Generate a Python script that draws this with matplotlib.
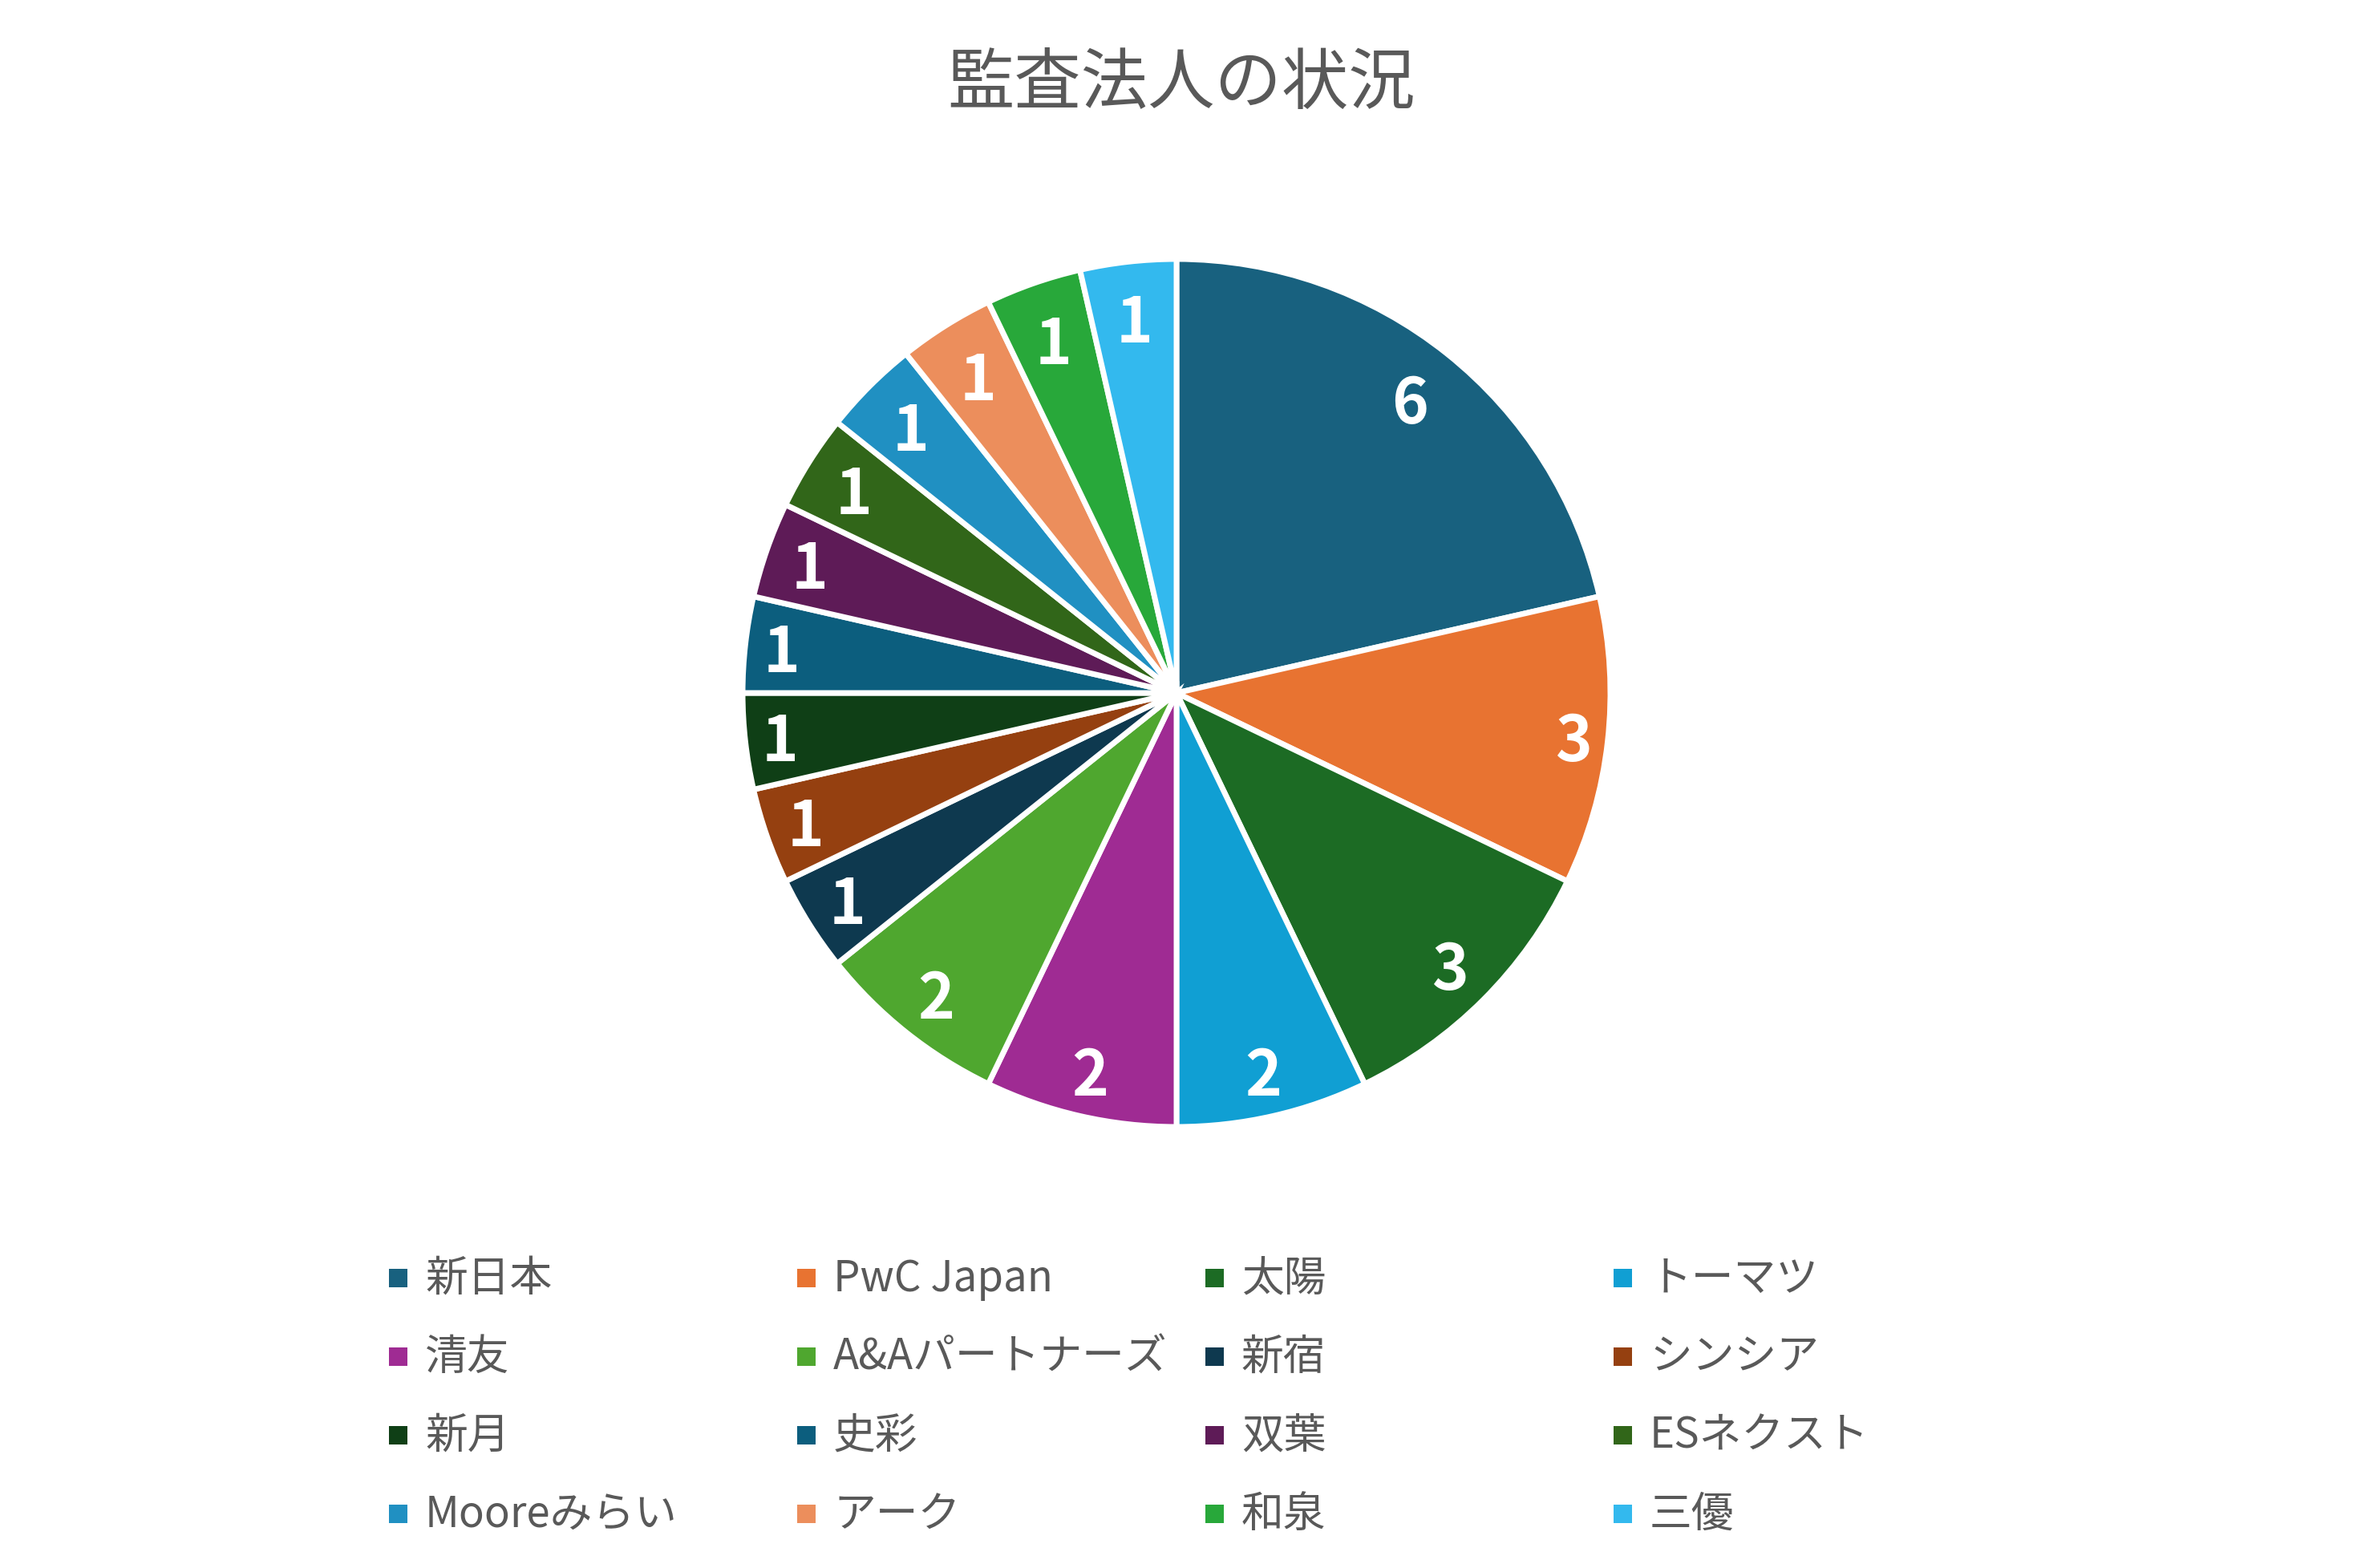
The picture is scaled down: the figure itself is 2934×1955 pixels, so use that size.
import numpy as np
import matplotlib
matplotlib.use('Agg')
import matplotlib.pyplot as plt
from matplotlib.patches import Rectangle

title = '監査法人の状況'
labels = ['新日本', 'PwC Japan', '太陽', 'トーマツ', '清友', 'A&Aパートナーズ',
          '新宿', 'シンシア', '新月', '史彩', '双葉', 'ESネクスト',
          'Mooreみらい', 'アーク', '和泉', '三優']
values = [6, 3, 3, 2, 2, 2, 1, 1, 1, 1, 1, 1, 1, 1, 1, 1]
colors = ['#18617F', '#E87331', '#1C6B24', '#109FD3', '#9F2B93', '#4FA72F',
          '#0E394F', '#954010', '#0F3F16', '#0C5E7E', '#5E1B57', '#316619',
          '#2090C2', '#EC8E5C', '#28A83A', '#33B9EE']

plt.rcParams['font.family'] = ['Noto Sans CJK JP', 'DejaVu Sans']

W, H, dpi = 2934, 1956, 200
fig = plt.figure(figsize=(W / dpi, H / dpi), dpi=dpi)
fig.patch.set_facecolor('white')

cx, cy, r = 1467, 865, 541
ax = fig.add_axes([(cx - r) / W, 1 - (cy + r) / H, 2 * r / W, 2 * r / H])
wedges, texts = ax.pie(values, colors=colors, startangle=90, counterclock=False,
                       labels=[str(v) for v in values], labeldistance=0.9,
                       wedgeprops=dict(edgecolor='white', linewidth=2.5),
                       textprops=dict(color='white', fontsize=28,
                                      fontweight='bold',
                                      ha='center', va='baseline'))
ax.set_xlim(-1, 1)
ax.set_ylim(-1, 1)
ax.axis('off')

# "inside end" label placement (pixel sizes converted to radius units)
pad, hw, hh_top, hh_bot, half_digit = 11 / r, 28 / r, 58 / r, 40 / r, 28.5 / r
for w, t in zip(wedges, texts):
    th = np.deg2rad((w.theta1 + w.theta2) / 2)
    c, s = np.cos(th), np.sin(th)
    hh = hh_top if s >= 0 else hh_bot
    d = 1 - pad - (hw * abs(c) + hh * abs(s))
    t.set_position((d * c, d * s - half_digit))

fig.text(1473 / W, 1 - 105 / H, title, ha='center', va='center',
         fontsize=30, color='#595959')

for i, (lab, w) in enumerate(zip(labels, wedges)):
    row, col = divmod(i, 4)
    x = 485 + col * 509
    y = 1594 + row * 98
    fig.patches.append(Rectangle((x / W, 1 - (y + 12) / H), 23 / W, 23 / H,
                                 transform=fig.transFigure,
                                 facecolor=w.get_facecolor(), edgecolor='none'))
    fig.text((x + 45) / W, 1 - y / H, lab, ha='left', va='center',
             fontsize=19, color='#595959')

fig.savefig('out.png', dpi=dpi, facecolor='white')
